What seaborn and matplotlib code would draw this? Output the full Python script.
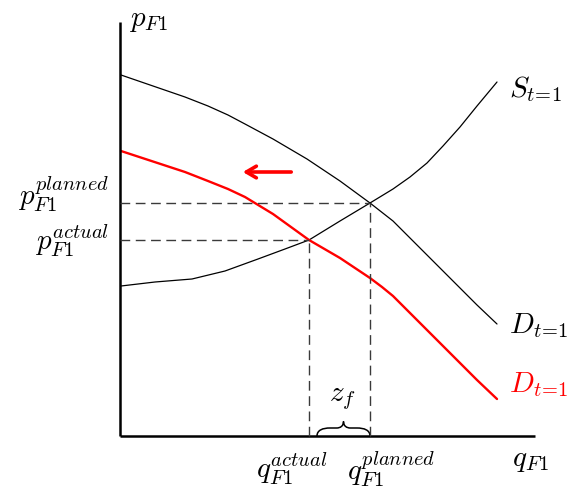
import numpy as np
import pandas as pd
import matplotlib
matplotlib.use("Agg")
import matplotlib.pyplot as plt
from matplotlib.path import Path
from matplotlib.patches import PathPatch
import seaborn as sns

# Supply and demand schedules (quantity, price)
supply_q = [1, 35, 72, 105, 138, 165, 189, 220, 250, 273, 290, 307, 323, 340, 357, 377]
supply_p = [150, 154, 157, 165, 177, 187, 196, 215, 233, 247, 259, 273, 290, 309, 330, 354]

demand_q = [1, 65, 88, 108, 125, 153, 187, 220, 250, 273, 290, 307, 323, 340, 357, 377]
demand_p = [361, 339, 330, 321, 312, 297, 277, 255, 233, 215, 198, 181, 165, 148, 131, 112]

demand_new_q = [1, 65, 88, 108, 125, 153, 189, 220, 250, 262, 273, 290, 307, 323, 340, 357, 377]
demand_new_p = [285, 264, 255, 247, 239, 222, 196, 178, 158, 149, 140, 123, 106, 90, 73, 56, 37]

# Equilibria
q_planned, p_planned = 250, 233
q_actual, p_actual = 189, 196

sns.set_theme(style="white")
plt.rcParams["mathtext.fontset"] = "cm"
plt.rcParams["font.family"] = ["DejaVu Serif", "DejaVu Sans"]
plt.rcParams["text.color"] = "black"

fig = plt.figure(figsize=(5.72, 4.89), dpi=100)
ax = fig.add_axes([0, 0, 1, 1])
ax.set_xlim(-120, 452)
ax.set_ylim(-52, 437)
ax.axis("off")

curves = pd.DataFrame({
    "q": supply_q + demand_q + demand_new_q,
    "p": supply_p + demand_p + demand_new_p,
    "curve": ["S"] * len(supply_q) + ["D"] * len(demand_q) + ["D_new"] * len(demand_new_q),
})
for name, color, lw in [("S", "black", 0.9), ("D", "black", 0.9), ("D_new", "#ff0000", 1.7)]:
    sub = curves[curves["curve"] == name]
    sns.lineplot(data=sub, x="q", y="p", sort=False, color=color, lw=lw, ax=ax,
                 legend=False, estimator=None)

# Axes
ax.plot([0, 0], [0, 414], color="black", lw=1.8, solid_capstyle="butt")
ax.plot([0, 415], [0, 0], color="black", lw=1.8, solid_capstyle="butt")

# Guide lines to the equilibria
dash = dict(color="#3a3a3a", lw=1.0, dashes=(7, 4))
ax.plot([0, q_planned], [p_planned, p_planned], **dash)
ax.plot([0, q_actual], [p_actual, p_actual], **dash)
ax.plot([q_planned, q_planned], [0, p_planned], **dash)
ax.plot([q_actual, q_actual], [0, p_actual], **dash)

# Shift arrow
ax.annotate("", xy=(120, 264), xytext=(174, 264),
            arrowprops=dict(arrowstyle="->,head_length=0.6,head_width=0.35",
                            color="#ff0000", lw=2.6))

# Brace over the quantity gap
l, r = q_actual + 8, q_planned
m = (l + r) / 2
verts = [(l, 0), (l, 6), (l + 6, 8), (l + 13, 8),
         (m - 7, 8), (m - 7, 8),
         (m - 3, 8), (m, 10), (m, 14.5),
         (m, 10), (m + 3, 8), (m + 7, 8),
         (r - 13, 8), (r - 13, 8),
         (r - 6, 8), (r, 6), (r, 0)]
codes = [Path.MOVETO, Path.CURVE4, Path.CURVE4, Path.CURVE4,
         Path.LINETO, Path.LINETO,
         Path.CURVE4, Path.CURVE4, Path.CURVE4,
         Path.CURVE4, Path.CURVE4, Path.CURVE4,
         Path.LINETO, Path.LINETO,
         Path.CURVE4, Path.CURVE4, Path.CURVE4]
ax.add_patch(PathPatch(Path(verts, codes), fill=False, color="black", lw=1.1))

fs = 21
ax.text(9, 417, r"$p_{F1}$", fontsize=fs, ha="left", va="center")
ax.text(392, -23, r"$q_{F1}$", fontsize=fs, ha="left", va="center")
ax.text(389, 348, r"$S_{t\!=\!1}$", fontsize=fs, ha="left", va="center")
ax.text(389, 111, r"$D_{t\!=\!1}$", fontsize=fs, ha="left", va="center")
ax.text(389, 52, r"$D_{t\!=\!1}$", fontsize=fs, ha="left", va="center", color="#ff0000")
ax.text(-11, 243, r"$p_{F1}^{planned}$", fontsize=fs, ha="right", va="center")
ax.text(-11, 196, r"$p_{F1}^{actual}$", fontsize=fs, ha="right", va="center")
ax.text(172, -32, r"$q_{F1}^{actual}$", fontsize=fs, ha="center", va="center")
ax.text(271, -32, r"$q_{F1}^{planned}$", fontsize=fs, ha="center", va="center")
ax.text(222, 39, r"$z_f$", fontsize=fs, ha="center", va="center")

fig.savefig("out.png", dpi=100)
